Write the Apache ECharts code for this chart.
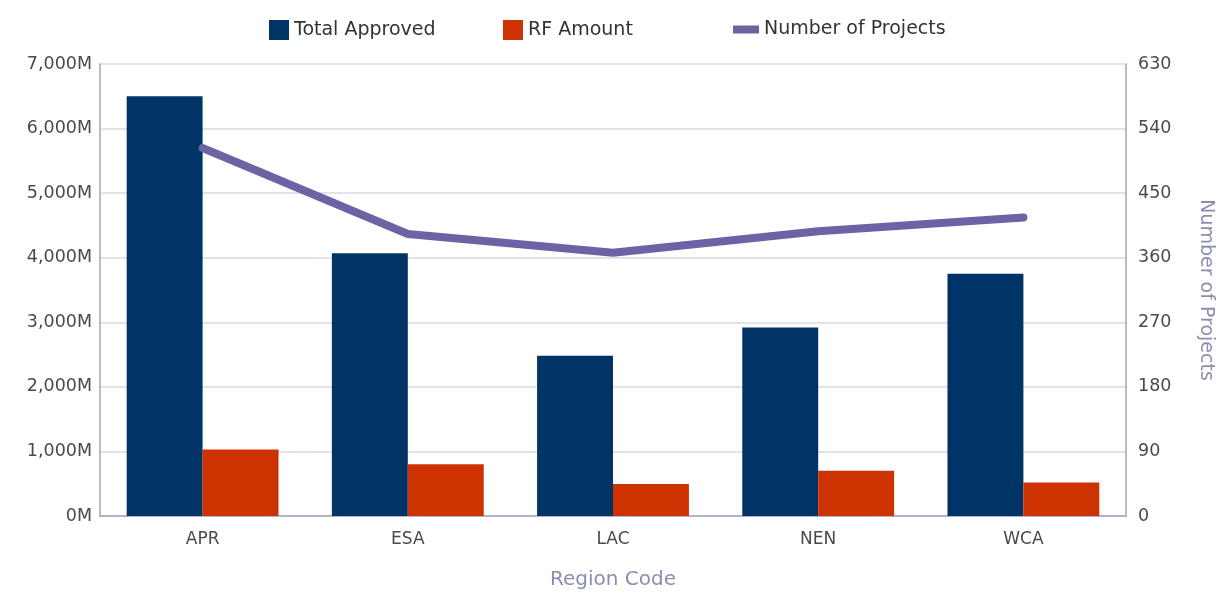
<!DOCTYPE html>
<html>
<head>
<meta charset="utf-8">
<script src="https://cdn.jsdelivr.net/npm/echarts@6/dist/echarts.min.js"></script>
<style>
html,body{margin:0;padding:0;background:#fff;}
#chart{width:1223px;height:595px;}
</style>
</head>
<body>
<div id="chart"></div>
<script>
const categories = ['APR', 'ESA', 'LAC', 'NEN', 'WCA'];
const totalApproved = [6500, 4070, 2480, 2920, 3750]; // millions
const rfAmount = [1030, 800, 495, 700, 520]; // millions
const numberOfProjects = [513, 393, 367, 397, 416];
const leftTicks = { min: 0, max: 7000, interval: 1000 };
const rightTicks = { min: 0, max: 630, interval: 90 };

const FONT = 'DejaVu Sans';
const legendText = { fontSize: 19, color: '#333333', fontFamily: FONT };
const chart = echarts.init(document.getElementById('chart'));
chart.setOption({
  animation: false,
  backgroundColor: '#ffffff',
  textStyle: { fontFamily: FONT },
  legend: [
    {
      top: 15, left: 264, itemWidth: 20, itemHeight: 20, itemGap: 8,
      textStyle: legendText,
      data: [{ name: 'Total Approved', icon: 'rect' }]
    },
    {
      top: 15, left: 498, itemWidth: 20, itemHeight: 20,
      textStyle: legendText,
      data: [{ name: 'RF Amount', icon: 'rect' }]
    },
    {
      top: 15, left: 728, itemWidth: 26, itemHeight: 8,
      textStyle: legendText,
      data: [{ name: 'Number of Projects', icon: 'rect', itemStyle: { color: '#6a64a4' } }]
    }
  ],
  grid: { left: 100, right: 94, top: 64, bottom: 73, containLabel: false },
  xAxis: {
    type: 'category',
    data: categories,
    name: 'Region Code',
    nameLocation: 'middle',
    nameGap: 54,
    nameTextStyle: { fontSize: 20, color: '#8a8fb0', fontFamily: FONT },
    axisLine: { show: true, lineStyle: { color: '#a3a3c2', width: 1.5 } },
    axisTick: { show: false },
    axisLabel: { fontSize: 17, color: '#4a4a4a', margin: 15, fontFamily: FONT }
  },
  yAxis: [
    {
      type: 'value',
      min: leftTicks.min, max: leftTicks.max, interval: leftTicks.interval,
      axisLine: { show: true, lineStyle: { color: '#a3a3c2', width: 1.5 } },
      axisTick: { show: false },
      axisLabel: {
        fontSize: 17.5, color: '#4a4a4a', margin: 8, fontFamily: FONT,
        formatter: v => v.toLocaleString('en-US') + 'M'
      },
      splitLine: { show: true, lineStyle: { color: '#d8d8e2', width: 1.5 } }
    },
    {
      type: 'value',
      min: rightTicks.min, max: rightTicks.max, interval: rightTicks.interval,
      name: 'Number of Projects',
      nameLocation: 'middle',
      nameRotate: -90,
      nameGap: 70,
      nameTextStyle: { fontSize: 19, color: '#8a8fb0', fontFamily: FONT },
      axisLine: { show: true, lineStyle: { color: '#a3a3c2', width: 1.5 } },
      axisTick: { show: false },
      axisLabel: { fontSize: 17.5, color: '#4a4a4a', margin: 12, fontFamily: FONT },
      splitLine: { show: false }
    }
  ],
  series: [
    {
      name: 'Total Approved',
      type: 'bar',
      data: totalApproved,
      barGap: '0%',
      barCategoryGap: '26%',
      itemStyle: { color: '#003366' }
    },
    {
      name: 'RF Amount',
      type: 'bar',
      data: rfAmount,
      itemStyle: { color: '#cc3300' }
    },
    {
      name: 'Number of Projects',
      type: 'line',
      yAxisIndex: 1,
      data: numberOfProjects,
      symbol: 'none',
      lineStyle: { color: '#6a64a4', width: 8, cap: 'round', join: 'round' },
      itemStyle: { color: '#6a64a4' },
      z: 5
    }
  ]
});
</script>
</body>
</html>
